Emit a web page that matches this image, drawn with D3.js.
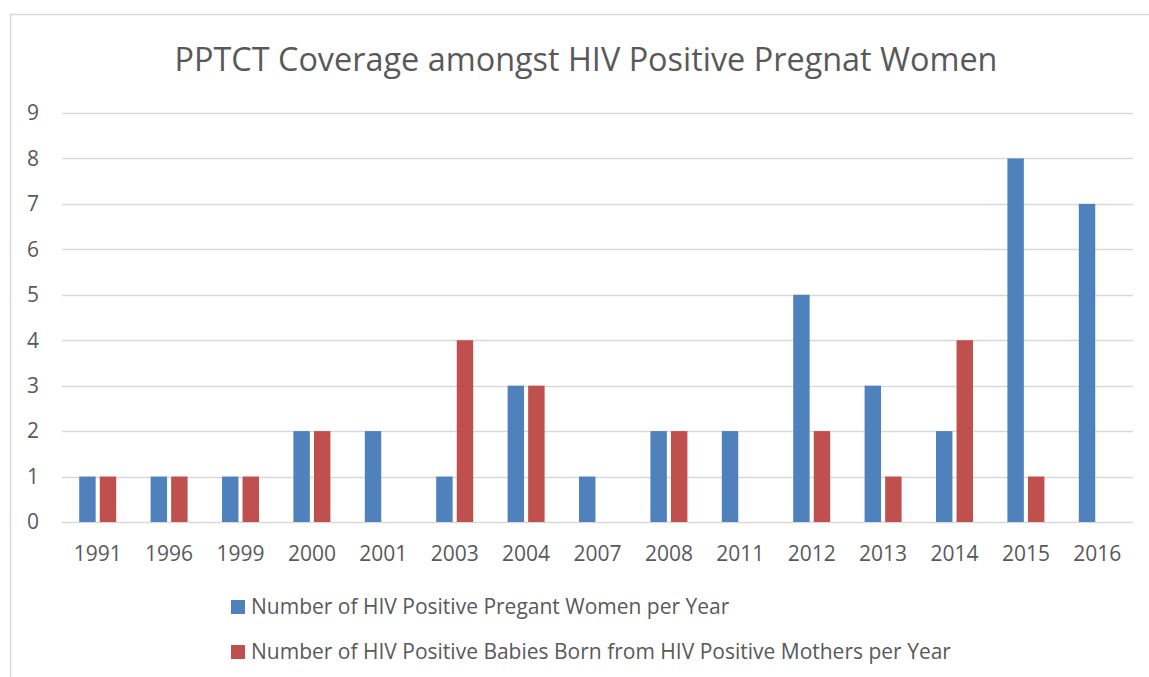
<!DOCTYPE html>
<html>
<head>
<meta charset="utf-8">
<script src="https://cdn.jsdelivr.net/npm/d3@7"></script>
<style>
  body { margin: 0; background: #fff; }
  svg text { font-family: "Open Sans", "Noto Sans", sans-serif; fill: #595959; }
</style>
</head>
<body>
<div id="chart"></div>
<script>
// Data
const years = ["1991", "1996", "1999", "2000", "2001", "2003", "2004", "2007",
  "2008", "2011", "2012", "2013", "2014", "2015", "2016"];
const pregnantWomen = [1, 1, 1, 2, 2, 1, 3, 1, 2, 2, 5, 3, 2, 8, 7];
const positiveBabies = [1, 1, 1, 2, 0, 4, 3, 0, 2, 0, 2, 1, 4, 1, 0];
const seriesNames = [
  "Number of HIV Positive Pregant Women per Year",
  "Number of HIV Positive Babies Born from HIV Positive Mothers per Year"
];
const yTicks = [0, 1, 2, 3, 4, 5, 6, 7, 8, 9];
const title = "PPTCT Coverage amongst HIV Positive Pregnat Women";

const colors = ["#4F81BD", "#C0504D"];

const width = 1149, height = 677;
const plot = { left: 62, right: 1133, top: 113, bottom: 522 };

const svg = d3.select("#chart").append("svg")
  .attr("width", width)
  .attr("height", height);

// chart border
svg.append("rect")
  .attr("x", 10.5).attr("y", 14.5)
  .attr("width", 1160).attr("height", 700)
  .attr("fill", "none")
  .attr("stroke", "#D9D9D9")
  .attr("stroke-width", 1.5);

// title
svg.append("text")
  .attr("x", 586).attr("y", 71)
  .attr("text-anchor", "middle")
  .style("font-size", "32.4px")
  .text(title);

const x = d3.scaleBand()
  .domain(years)
  .range([plot.left, plot.right]);

const y = d3.scaleLinear()
  .domain([0, 9])
  .range([plot.bottom, plot.top]);

// gridlines
svg.append("g")
  .selectAll("line")
  .data(yTicks)
  .join("line")
  .attr("x1", plot.left).attr("x2", plot.right)
  .attr("y1", d => Math.round(y(d)) + 0.5)
  .attr("y2", d => Math.round(y(d)) + 0.5)
  .attr("stroke", "#D9D9D9")
  .attr("stroke-width", 1.5);

// y labels
svg.append("g")
  .selectAll("text")
  .data(yTicks)
  .join("text")
  .attr("x", 39)
  .attr("y", d => y(d))
  .attr("dy", "0.35em")
  .attr("text-anchor", "end")
  .style("font-size", "21px")
  .text(d => d);

// x labels
svg.append("g")
  .selectAll("text")
  .data(years)
  .join("text")
  .attr("x", d => x(d) + x.bandwidth() / 2)
  .attr("y", 561)
  .attr("text-anchor", "middle")
  .style("font-size", "21px")
  .text(d => d);

// bars
const inner = d3.scaleBand()
  .domain([0, 1])
  .range([-18.5, 18.5])
  .paddingInner(0.2);

const series = [pregnantWomen, positiveBabies];
series.forEach((vals, si) => {
  svg.append("g")
    .selectAll("rect")
    .data(vals.map((v, i) => ({ year: years[i], value: v })))
    .join("rect")
    .attr("x", d => x(d.year) + x.bandwidth() / 2 + inner(si))
    .attr("width", inner.bandwidth())
    .attr("y", d => y(d.value))
    .attr("height", d => y(0) - y(d.value))
    .attr("fill", colors[si]);
});

// legend
const legend = svg.append("g")
  .selectAll("g")
  .data(seriesNames)
  .join("g")
  .attr("transform", (d, i) => `translate(231, ${600 + i * 45})`);

legend.append("rect")
  .attr("width", 14).attr("height", 14)
  .attr("fill", (d, i) => colors[i]);

legend.append("text")
  .attr("x", 20)
  .attr("y", 7)
  .attr("dy", "0.35em")
  .style("font-size", "21px")
  .text(d => d);
</script>
</body>
</html>
